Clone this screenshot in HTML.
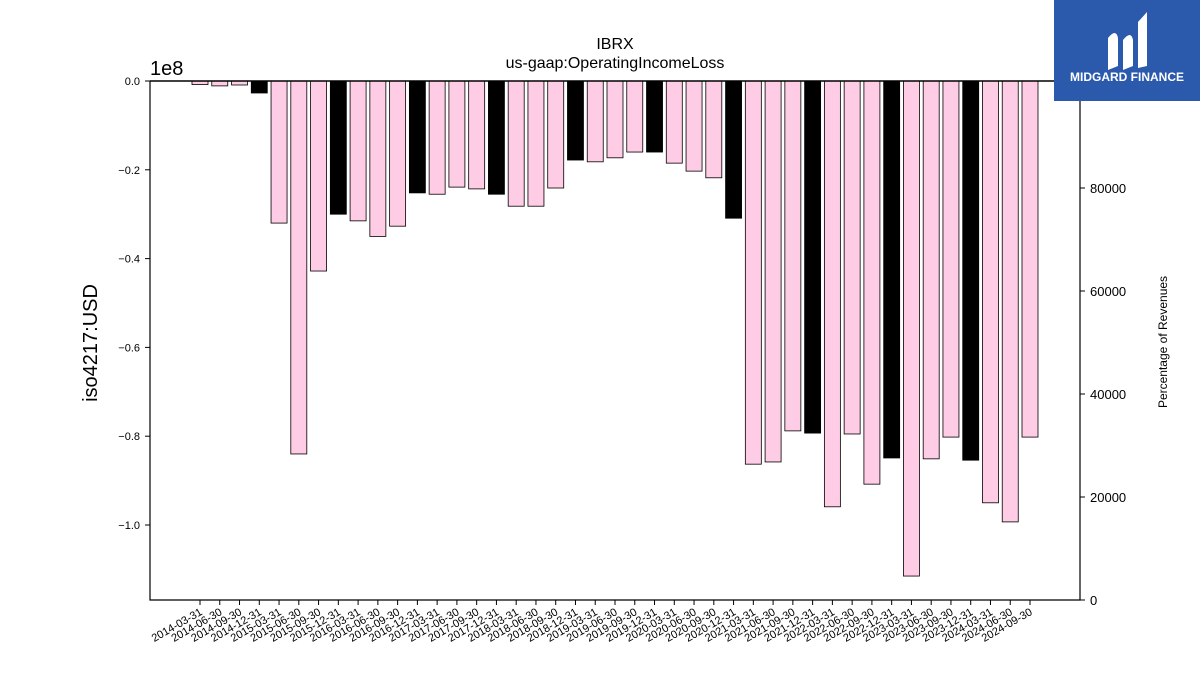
<!DOCTYPE html>
<html><head><meta charset="utf-8"><style>
body{margin:0;background:#fff;font-family:"Liberation Sans","DejaVu Sans",sans-serif}
svg{display:block}
</style></head><body>
<svg id="c" width="1200" height="675" xmlns="http://www.w3.org/2000/svg">
<rect x="0" y="0" width="1200" height="675" fill="#fff"/>
<text x="615" y="49" font-size="16" text-anchor="middle">IBRX</text>
<text x="615" y="68" font-size="16" text-anchor="middle">us-gaap:OperatingIncomeLoss</text>
<text x="150" y="75" font-size="20">1e8</text>
<text x="97" y="343" font-size="20" text-anchor="middle" transform="rotate(-90 97 343)">iso4217:USD</text>
<text x="1167" y="342" font-size="12" text-anchor="middle" transform="rotate(-90 1167 342)">Percentage of Revenues</text>
<g id="bars"></g>
<g id="axes"></g>
<g>
<rect x="1054" y="0" width="146" height="101" fill="#2b5aad"/>
<path d="M1108 70 L1108 38 Q1116 28 1118 38 L1118 66 Z M1123 70 L1123 40 Q1131 30 1133 40 L1133 66 Z M1138 68 L1138 22 L1147 12 L1147 66 Z" fill="#fff"/>
<text x="1127" y="81" font-size="12" font-weight="bold" fill="#fff" text-anchor="middle">MIDGARD FINANCE</text>
</g>
</svg>
<script>
const dates=["2014-03-31","2014-06-30","2014-09-30","2014-12-31","2015-03-31","2015-06-30","2015-09-30","2015-12-31","2016-03-31","2016-06-30","2016-09-30","2016-12-31","2017-03-31","2017-06-30","2017-09-30","2017-12-31","2018-03-31","2018-06-30","2018-09-30","2018-12-31","2019-03-31","2019-06-30","2019-09-30","2019-12-31","2020-03-31","2020-06-30","2020-09-30","2020-12-31","2021-03-31","2021-06-30","2021-09-30","2021-12-31","2022-03-31","2022-06-30","2022-09-30","2022-12-31","2023-03-31","2023-06-30","2023-09-30","2023-12-31","2024-03-31","2024-06-30","2024-09-30"];
const values=[-0.008,-0.011,-0.009,-0.027,-0.32,-0.84,-0.428,-0.30,-0.315,-0.35,-0.327,-0.252,-0.255,-0.239,-0.243,-0.255,-0.282,-0.282,-0.241,-0.178,-0.182,-0.173,-0.16,-0.16,-0.185,-0.203,-0.218,-0.309,-0.863,-0.858,-0.788,-0.793,-0.959,-0.795,-0.908,-0.849,-1.115,-0.851,-0.802,-0.854,-0.95,-0.993,-0.802];
const leftTicks=[0,-0.2,-0.4,-0.6,-0.8,-1.0];
const rightTicks=[0,20000,40000,60000,80000];
const NS="http://www.w3.org/2000/svg";
const L=150,R=1080,T=81,B=600;
const yL=v=>T+(-v)*444;
const yR=v=>B-v*(412/80000);
const xs=i=>200+i*(830/(dates.length-1));
function mk(t,a,p){const e=document.createElementNS(NS,t);for(const k in a)e.setAttribute(k,a[k]);p.appendChild(e);return e;}
const bars=document.getElementById('bars'),ax=document.getElementById('axes');
values.forEach((v,i)=>{
 const r=mk('rect',{x:xs(i)-8,y:T,width:16,height:Math.max(0,yL(v)-T),fill:(i%4===3)?'#000':'#ffcce6',stroke:'#000','stroke-width':0.8},bars);
 
 
 const tk=mk('line',{x1:xs(i),x2:xs(i),y1:B,y2:B+5,stroke:'#000'},ax);
 
 
 const t=mk('text',{x:xs(i)+3,y:B+14,'font-size':11,'text-anchor':'end',transform:`rotate(-30 ${xs(i)+3} ${B+14})`},ax);
 t.textContent=dates[i];
 
 
});
leftTicks.forEach(v=>{
 const y=yL(v);
 const l=mk('line',{x1:L-5,x2:L,y1:y,y2:y,stroke:'#000'},ax);
 
 
 const t=mk('text',{x:L-10,y:y+4,'font-size':11,'text-anchor':'end'},ax);
 t.textContent=(v===0?'0.0':v.toFixed(1).replace('-','\u2212'));
 
 
});
rightTicks.forEach(v=>{
 const y=yR(v);
 const l=mk('line',{x1:R,x2:R+5,y1:y,y2:y,stroke:'#000'},ax);
 
 
 const t=mk('text',{x:R+10,y:y+5,'font-size':13},ax);
 t.textContent=v;
 
 
});
const f=mk('path',{d:`M${L} ${T}V${B}H${R}V${T}`,fill:'none',stroke:'#000','stroke-width':1.2},ax);


const z=mk('line',{x1:L,x2:R,y1:T,y2:T,stroke:'#000','stroke-width':1.5},ax);


</script>
</body></html>
